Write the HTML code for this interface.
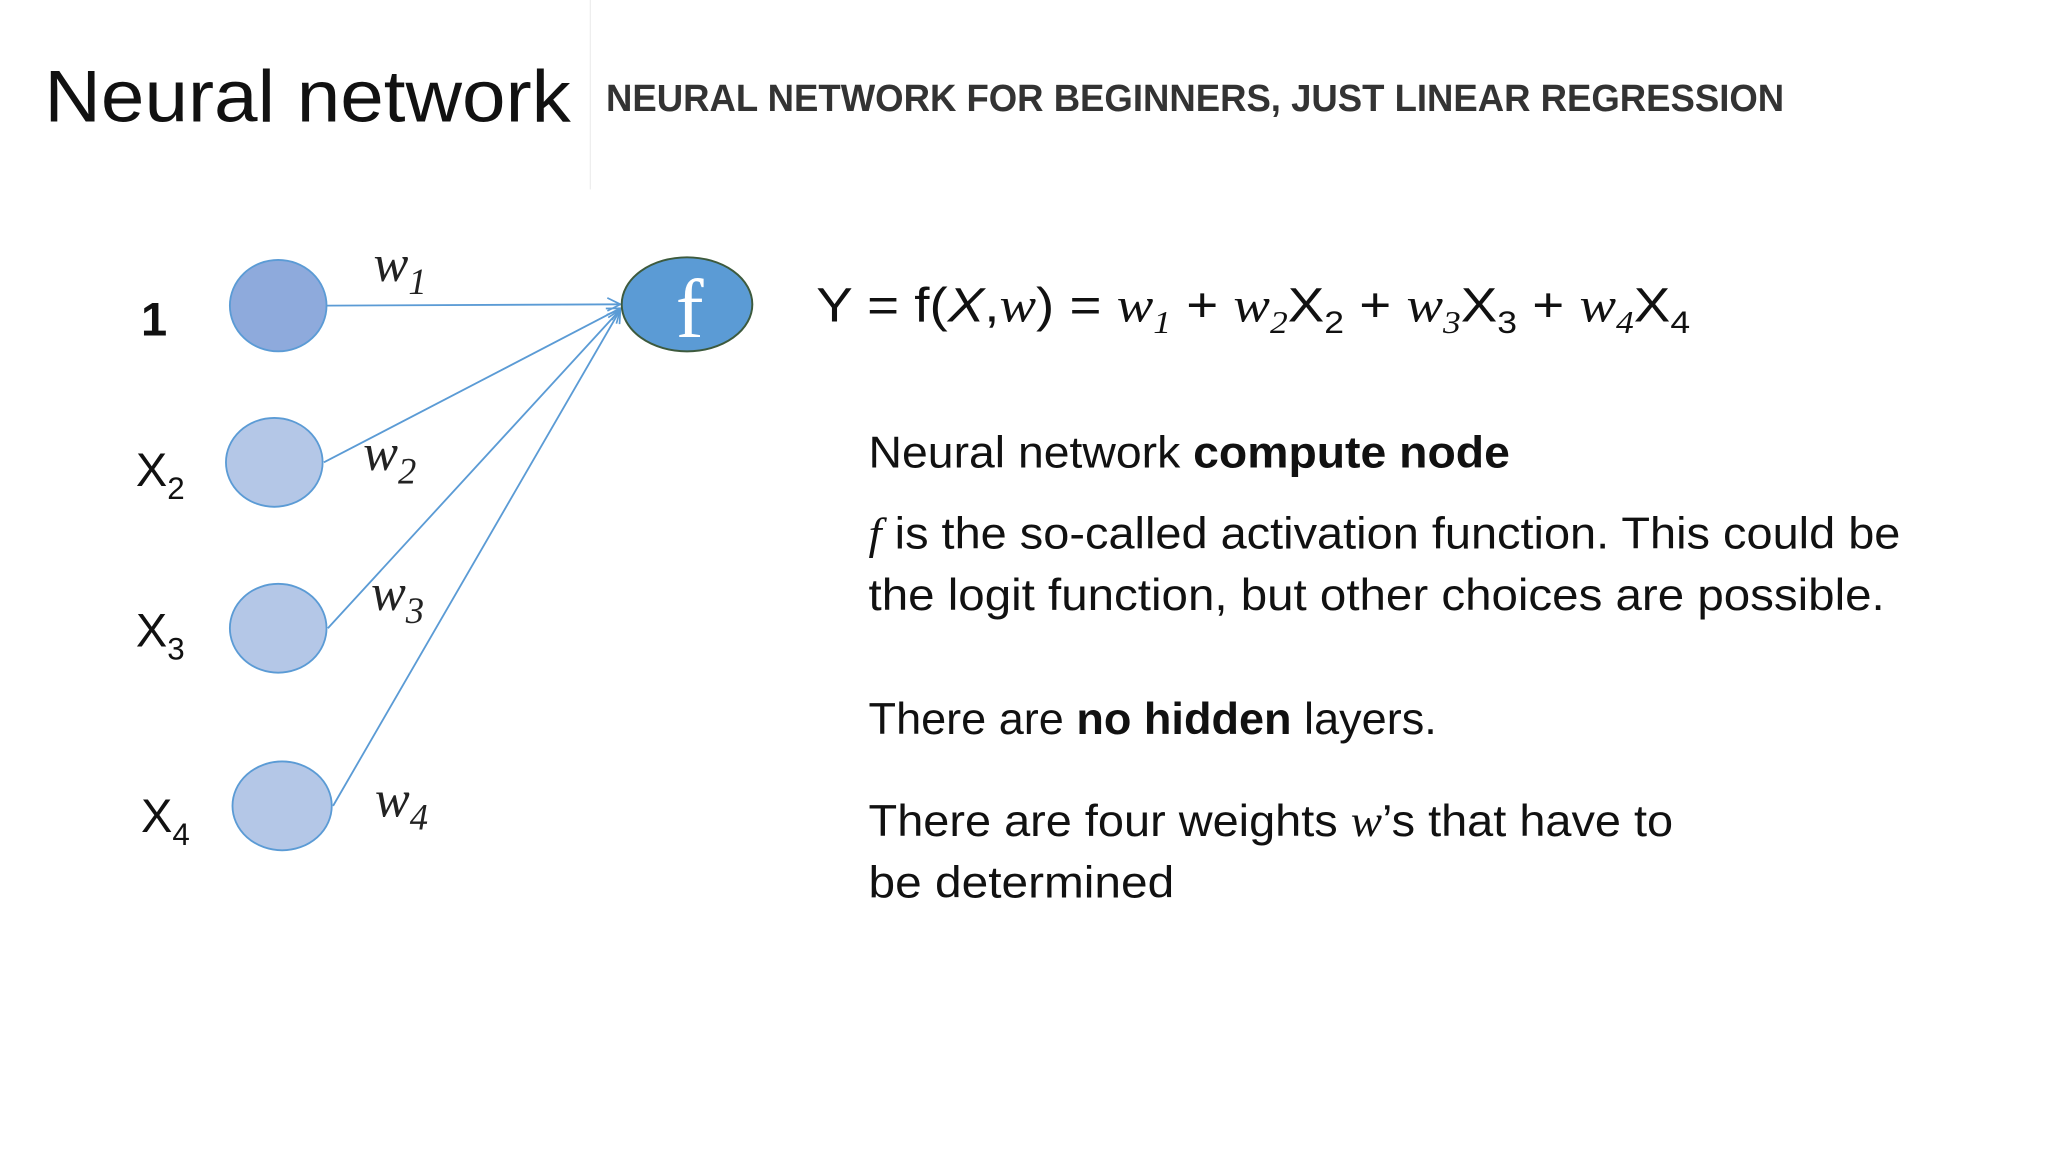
<!DOCTYPE html>
<html><head><meta charset="utf-8"><style>
html,body{margin:0;padding:0;background:#fff;}
svg{display:block;}
.s{font-family:"Liberation Sans",sans-serif;}
.r{font-family:"Liberation Serif",serif;font-style:italic;}
</style></head><body>
<svg width="2048" height="1152" viewBox="0 0 1568 882" preserveAspectRatio="none" xmlns="http://www.w3.org/2000/svg">
<defs>
<marker id="a" markerWidth="12" markerHeight="12" refX="11" refY="6" orient="auto" markerUnits="userSpaceOnUse">
<path d="M1,1 L11,6 L1,11" fill="none" stroke="#5b9bd5" stroke-width="1.3"/>
</marker>
</defs>
<rect width="1568" height="882" fill="#fff"/>
<line x1="452" y1="0" x2="452" y2="145" stroke="#eeeeee" stroke-width="1"/>
<text x="34" y="93" class="s" font-size="56" fill="#111" textLength="403" lengthAdjust="spacingAndGlyphs">Neural network</text>
<text x="464" y="85" class="s" font-size="29" font-weight="bold" fill="#333" textLength="902" lengthAdjust="spacingAndGlyphs">NEURAL NETWORK FOR BEGINNERS, JUST LINEAR REGRESSION</text>

<g stroke="#5b9bd5" stroke-width="1.4" fill="none">
<line x1="250" y1="234" x2="475" y2="233" marker-end="url(#a)"/>
<line x1="248" y1="354" x2="475" y2="236" marker-end="url(#a)"/>
<line x1="251" y1="481" x2="475" y2="237" marker-end="url(#a)"/>
<line x1="255" y1="617" x2="475" y2="237" marker-end="url(#a)"/>
</g>
<g stroke="#5b9bd5" stroke-width="1.4">
<ellipse cx="213" cy="234" rx="37" ry="35" fill="#8eaadc"/>
<ellipse cx="210" cy="354" rx="37" ry="34" fill="#b4c7e7"/>
<ellipse cx="213" cy="481" rx="37" ry="34" fill="#b4c7e7"/>
<ellipse cx="216" cy="617" rx="38" ry="34" fill="#b4c7e7"/>
</g>
<ellipse cx="526" cy="233" rx="50" ry="36" fill="#5b9bd5" stroke="#3d5a3d" stroke-width="1.5"/>
<text x="528" y="258" font-family="Liberation Serif,serif" font-size="64" fill="#fff" text-anchor="middle">f</text>

<text x="108" y="257" class="s" font-size="36" font-weight="bold" fill="#111">1</text>
<text x="104" y="372" class="s" font-size="36" fill="#111">X<tspan font-size="24" dy="10">2</tspan></text>
<text x="104" y="495" class="s" font-size="36" fill="#111">X<tspan font-size="24" dy="10">3</tspan></text>
<text x="108" y="637" class="s" font-size="36" fill="#111">X<tspan font-size="24" dy="10">4</tspan></text>

<g class="r" font-size="40" fill="#222">
<text x="286" y="215">w<tspan font-size="28" dy="10">1</tspan></text>
<text x="278" y="360">w<tspan font-size="28" dy="10">2</tspan></text>
<text x="284" y="467">w<tspan font-size="28" dy="10">3</tspan></text>
<text x="287" y="625">w<tspan font-size="28" dy="10">4</tspan></text>
</g>

<text x="625" y="246" class="s" font-size="37" fill="#111" textLength="669" lengthAdjust="spacingAndGlyphs">Y  = f(<tspan font-style="italic">X</tspan>,<tspan class="r">w</tspan>) = <tspan class="r">w</tspan><tspan class="r" font-size="24" dy="9">1</tspan><tspan dy="-9"> + </tspan><tspan class="r">w</tspan><tspan class="r" font-size="24" dy="9">2</tspan><tspan dy="-9">X</tspan><tspan font-size="24" dy="9">2</tspan><tspan dy="-9"> + </tspan><tspan class="r">w</tspan><tspan class="r" font-size="24" dy="9">3</tspan><tspan dy="-9">X</tspan><tspan font-size="24" dy="9">3</tspan><tspan dy="-9"> + </tspan><tspan class="r">w</tspan><tspan class="r" font-size="24" dy="9">4</tspan><tspan dy="-9">X</tspan><tspan font-size="24" dy="9">4</tspan></text>

<g class="s" font-size="34" fill="#111">
<text x="665" y="358" textLength="491" lengthAdjust="spacingAndGlyphs">Neural network <tspan font-weight="bold">compute node</tspan></text>
<text x="665" y="420" textLength="790" lengthAdjust="spacingAndGlyphs"><tspan class="r">f</tspan> is the so-called activation function. This could be</text>
<text x="665" y="467" textLength="778" lengthAdjust="spacingAndGlyphs">the logit function, but other choices are possible.</text>
<text x="665" y="562" textLength="435" lengthAdjust="spacingAndGlyphs">There are <tspan font-weight="bold">no hidden</tspan> layers.</text>
<text x="665" y="640" textLength="616" lengthAdjust="spacingAndGlyphs">There are four weights <tspan class="r">w</tspan>’s that have to</text>
<text x="665" y="687" textLength="234" lengthAdjust="spacingAndGlyphs">be determined</text>
</g>
</svg>
</body></html>
